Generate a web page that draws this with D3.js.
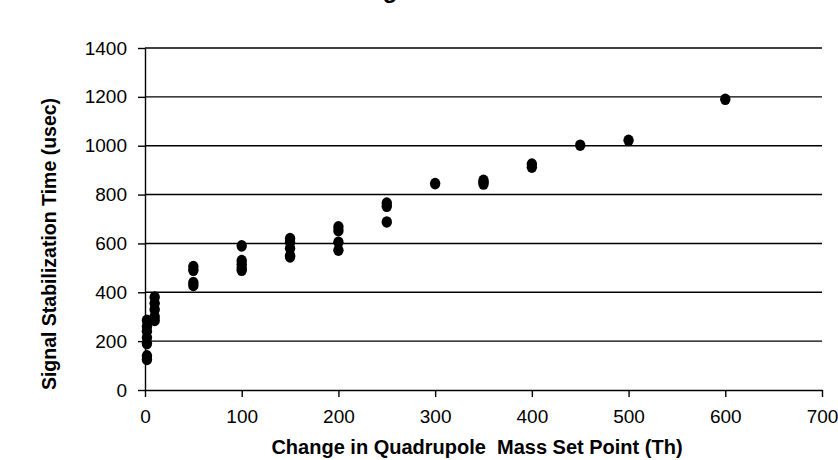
<!DOCTYPE html>
<html>
<head>
<meta charset="utf-8">
<script src="https://cdn.jsdelivr.net/npm/d3@7"></script>
<style>
  html, body { margin: 0; padding: 0; background: #fff; }
  svg { display: block; }
  text { font-family: Arial, "Liberation Sans", sans-serif; fill: #000; }
</style>
</head>
<body>
<svg id="chart" width="838" height="460"></svg>
<script>
// Settling time measured for each step of the quadrupole mass set point
const massSteps = [
  2, 2, 2, 2, 2, 2, 2,
  10, 10, 10, 10, 10,
  50, 50, 50, 50,
  100, 100, 100, 100, 100,
  150, 150, 150, 150, 150,
  200, 200, 200, 200,
  250, 250, 250,
  300,
  350, 350, 350,
  400, 400,
  450,
  500,
  600
];
const stabilizationTimes = [
  285, 260, 240, 215, 190, 140, 125,
  380, 355, 330, 300, 285,
  505, 490, 440, 428,
  590, 530, 515, 500, 490,
  620, 605, 580, 550, 545,
  668, 652, 605, 572,
  765, 752, 688,
  845,
  858, 850, 843,
  925, 912,
  1002,
  1022,
  1190
];
const xTicks = [0, 100, 200, 300, 400, 500, 600, 700];
const yTicks = [0, 200, 400, 600, 800, 1000, 1200, 1400];

const chartTitle = "Signal Stabilization Time";
const xTitle = "Change in Quadrupole  Mass Set Point (Th)";
const yTitle = "Signal Stabilization Time (usec)";

const svg = d3.select("#chart");
const plotLeft = 145, plotRight = 822, plotTop = 48, plotBottom = 390;

const x = d3.scaleLinear().domain([0, 700]).range([plotLeft, plotRight]);
const y = d3.scaleLinear().domain([0, 1400]).range([plotBottom, plotTop]);

// horizontal gridlines
svg.append("g")
  .selectAll("line")
  .data(yTicks.filter(d => d > 0))
  .join("line")
  .attr("x1", plotLeft).attr("x2", plotRight)
  .attr("y1", d => y(d)).attr("y2", d => y(d))
  .attr("stroke", "#000").attr("stroke-width", 1.4);

// y axis
const yAxis = svg.append("g")
  .attr("transform", `translate(${plotLeft},0)`)
  .call(d3.axisLeft(y).tickValues(yTicks).tickFormat(d3.format("d"))
    .tickSize(7).tickPadding(11).tickSizeOuter(0));
yAxis.select(".domain").attr("stroke", "#000").attr("stroke-width", 1.4);
yAxis.selectAll(".tick line").attr("stroke", "#000").attr("stroke-width", 1.4);
yAxis.selectAll("text").style("font-size", "19px").attr("font-family", "Arial, 'Liberation Sans', sans-serif");

// x axis
const xAxis = svg.append("g")
  .attr("transform", `translate(0,${plotBottom})`)
  .call(d3.axisBottom(x).tickValues(xTicks).tickFormat(d3.format("d"))
    .tickSize(7).tickPadding(13).tickSizeOuter(0));
xAxis.select(".domain").attr("stroke", "#000").attr("stroke-width", 1.4);
xAxis.selectAll(".tick line").attr("stroke", "#000").attr("stroke-width", 1.4);
xAxis.selectAll("text").style("font-size", "19px").attr("font-family", "Arial, 'Liberation Sans', sans-serif");

// data points
svg.append("g")
  .selectAll("ellipse")
  .data(massSteps.map((m, i) => [m, stabilizationTimes[i]]))
  .join("ellipse")
  .attr("cx", d => x(d[0]))
  .attr("cy", d => y(d[1]))
  .attr("rx", 5.2)
  .attr("ry", 5.8)
  .attr("fill", "#000");

// titles
svg.append("text")
  .attr("x", 360).attr("y", -2)
  .style("font-size", "24px").style("font-weight", "bold")
  .text(chartTitle);

svg.append("text")
  .attr("x", 477).attr("y", 454)
  .attr("text-anchor", "middle")
  .style("font-size", "20px").style("font-weight", "bold")
  .style("white-space", "pre")
  .text(xTitle);

svg.append("text")
  .attr("transform", "translate(56,244) rotate(-90)")
  .attr("text-anchor", "middle")
  .style("font-size", "19.5px").style("font-weight", "bold")
  .text(yTitle);
</script>
</body>
</html>
